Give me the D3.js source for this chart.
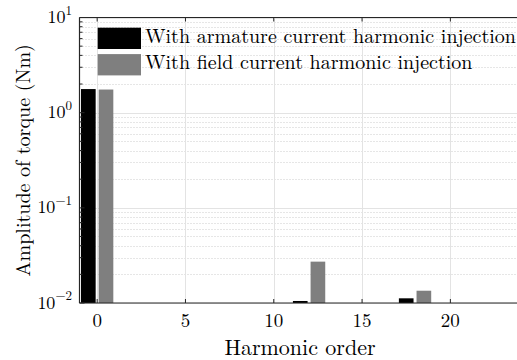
<!DOCTYPE html>
<html><head><meta charset="utf-8">
<script src="https://cdn.jsdelivr.net/npm/d3@7"></script>
<style>
html,body{margin:0;padding:0;background:#fff;overflow:hidden}
</style></head>
<body><svg id="c" width="517" height="360"></svg>
<script>
const harmonics = [0, 12, 18];
const armature = [1.77, 0.0105, 0.0112];
const field = [1.75, 0.0272, 0.01346];
const seriesNames = ["With armature current harmonic injection", "With field current harmonic injection"];
const seriesColors = ["#000000", "#7f7f7f"];
const xTicks = [0, 5, 10, 15, 20];
const yTickExps = [-2, -1, 0, 1];
const xLabel = "Harmonic order";
const yLabel = "Amplitude of torque (Nm)";

const FONT = '"Latin Modern Roman","Liberation Serif",serif';
const svg = d3.select("#c");
const L = 79.5, T = 17.5, B = 303, R = 521;
const x = d3.scaleLinear().domain([-1, 24]).range([L, R]);
const y = d3.scaleLog().domain([0.01, 10]).range([B, T]);

svg.append("defs").append("clipPath").attr("id","pc")
  .append("rect").attr("x",L).attr("y",T).attr("width",R-L).attr("height",B-T);

// minor y grid
const minor = [];
for (let e = -2; e < 1; e++) for (let m = 2; m <= 9; m++) minor.push(m*Math.pow(10,e));
svg.append("g").selectAll("line").data(minor).join("line")
  .attr("x1",L).attr("x2",R).attr("y1",d=>Math.round(y(d))+0.5).attr("y2",d=>Math.round(y(d))+0.5)
  .attr("stroke","#cccccc").attr("stroke-width",1).attr("stroke-dasharray","1,2");
// major grids
svg.append("g").selectAll("line").data(yTickExps.map(e=>Math.pow(10,e))).join("line")
  .attr("x1",L).attr("x2",R).attr("y1",d=>Math.round(y(d))+0.5).attr("y2",d=>Math.round(y(d))+0.5)
  .attr("stroke","#e3e3e3").attr("stroke-width",1);
svg.append("g").selectAll("line").data(xTicks).join("line")
  .attr("x1",d=>Math.round(x(d))+0.5).attr("x2",d=>Math.round(x(d))+0.5).attr("y1",T).attr("y2",B)
  .attr("stroke","#e3e3e3").attr("stroke-width",1);

// bars
const bw = 0.83;
const series = [armature, field];
const offsets = [-0.5, 0.5];
const bars = svg.append("g").attr("clip-path","url(#pc)");
series.forEach((vals, si) => {
  bars.selectAll(null).data(harmonics.map((h,i)=>({h, v: vals[i]}))).join("rect")
    .attr("x", d => x(d.h + offsets[si] - bw/2))
    .attr("width", x(bw) - x(0))
    .attr("y", d => y(d.v))
    .attr("height", d => y(0.01) - y(d.v))
    .attr("fill", seriesColors[si]);
});

// axes lines
const ax = "#262626";
svg.append("line").attr("x1",L).attr("x2",R).attr("y1",B).attr("y2",B).attr("stroke",ax).attr("stroke-width",1.2);
svg.append("line").attr("x1",L).attr("x2",R).attr("y1",T).attr("y2",T).attr("stroke",ax).attr("stroke-width",1.2);
svg.append("line").attr("x1",L).attr("x2",L).attr("y1",T).attr("y2",B).attr("stroke",ax).attr("stroke-width",1.2);

// x ticks (inside, bottom & top)
const xt = svg.append("g");
xt.selectAll(null).data(xTicks).join("line")
  .attr("x1",d=>x(d)).attr("x2",d=>x(d)).attr("y1",B).attr("y2",B-4).attr("stroke",ax);
xt.selectAll(null).data(xTicks).join("line")
  .attr("x1",d=>x(d)).attr("x2",d=>x(d)).attr("y1",T).attr("y2",T+4).attr("stroke",ax);
xt.selectAll(null).data(xTicks).join("text")
  .attr("x",d=>x(d)).attr("y",327).attr("text-anchor","middle")
  .style("font-family",FONT).style("font-size","19px").text(d=>d);

// y ticks
const yt = svg.append("g");
yt.selectAll(null).data(yTickExps).join("line")
  .attr("x1",L).attr("x2",L+5).attr("y1",d=>y(Math.pow(10,d))).attr("y2",d=>y(Math.pow(10,d))).attr("stroke",ax);
yt.selectAll(null).data(minor).join("line")
  .attr("x1",L).attr("x2",L+3).attr("y1",d=>y(d)).attr("y2",d=>y(d)).attr("stroke",ax);
const yl = yt.selectAll(null).data(yTickExps).join("text")
  .attr("x",72).attr("y",d=>y(Math.pow(10,d))+5.5).attr("text-anchor","end")
  .style("font-family",FONT).style("font-size","18px");
yl.append("tspan").text("10");
yl.append("tspan").attr("dy",-8.5).style("font-size","13px").text(d=>d<0?"\u2212"+(-d):String(d));

// axis labels
svg.append("text").attr("x",300).attr("y",355)
  .attr("text-anchor","middle").style("font-family",FONT).style("font-size","22px").text(xLabel);
svg.append("text").attr("transform",`translate(30,${(T+B)/2}) rotate(-90)`)
  .attr("text-anchor","middle").style("font-family",FONT).style("font-size","20px").text(yLabel);

// legend
const lg = svg.append("g");
seriesNames.forEach((n, i) => {
  const yy = 27.7 + i*26.4;
  lg.append("rect").attr("x",97.7).attr("y",yy).attr("width",43.3).attr("height",21.3).attr("fill",seriesColors[i]);
  lg.append("text").attr("x",145).attr("y",yy+15.3)
    .style("font-family",FONT).style("font-size","20px").text(n);
});
</script></body></html>
